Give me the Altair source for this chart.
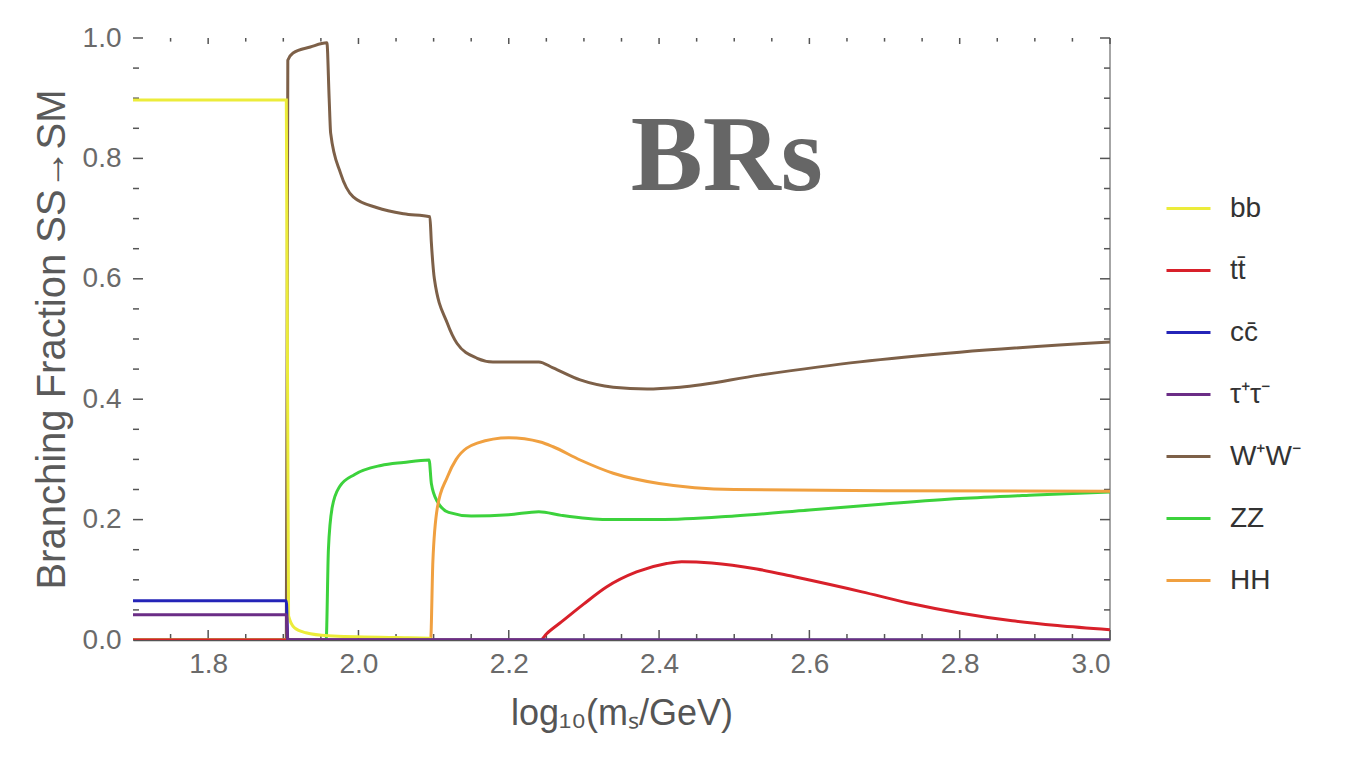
import altair as alt
import pandas as pd

# ---------------- data ----------------
series_names = ["bb", "tt\u0304", "cc\u0304", "\u03c4\u207a\u03c4\u207b", "W\u207aW\u207b", "ZZ", "HH"]
series_colors = ["#ecec3a", "#d8202a", "#2424b8", "#6b2d86", "#7d6048", "#3cd23c", "#f0a040"]

bb_x = [1.7, 1.904, 1.907, 1.915, 1.93, 1.96, 2.05, 2.095, 2.098, 3.0]
bb_y = [0.897, 0.897, 0.04, 0.02, 0.012, 0.007, 0.004, 0.003, 0.0, 0.0]

tt_x = [1.7, 2.242, 2.25, 2.27, 2.3, 2.33, 2.37, 2.41, 2.43, 2.47, 2.53, 2.58, 2.67, 2.73, 2.8, 2.87, 2.93, 3.0]
tt_y = [0.0, 0.0, 0.01, 0.03, 0.06, 0.088, 0.113, 0.127, 0.13, 0.128, 0.118, 0.105, 0.08, 0.062, 0.045, 0.032, 0.024, 0.017]

cc_x = [1.7, 1.904, 1.906, 3.0]
cc_y = [0.065, 0.065, 0.0, 0.0]

tau_x = [1.7, 1.904, 1.906, 3.0]
tau_y = [0.042, 0.042, 0.0, 0.0]

ww_x = [1.7, 1.904, 1.906, 1.913, 1.936, 1.958, 1.961, 1.963, 1.976, 1.993, 2.025, 2.06, 2.095,
        2.097, 2.101, 2.118, 2.131, 2.158, 2.179, 2.24, 2.259, 2.295, 2.339, 2.384, 2.428,
        2.534, 2.667, 2.8, 3.0]
ww_y = [0.0, 0.0, 0.963, 0.975, 0.985, 0.992, 0.90, 0.842, 0.776, 0.736, 0.718, 0.708, 0.703,
        0.66, 0.60, 0.527, 0.493, 0.468, 0.462, 0.462, 0.452, 0.432, 0.42, 0.417, 0.42,
        0.44, 0.462, 0.478, 0.495]

zz_x = [1.7, 1.957, 1.960, 1.965, 1.975, 1.995, 2.03, 2.06, 2.094, 2.097, 2.105, 2.12, 2.15,
        2.2, 2.24, 2.27, 2.33, 2.4, 2.5, 2.6, 2.7, 2.8, 2.9, 3.0]
zz_y = [0.0, 0.0, 0.15, 0.22, 0.255, 0.275, 0.29, 0.295, 0.299, 0.26, 0.23, 0.212, 0.206,
        0.208, 0.213, 0.207, 0.2, 0.2, 0.206, 0.216, 0.226, 0.235, 0.241, 0.246]

hh_x = [1.7, 2.096, 2.099, 2.105, 2.118, 2.13, 2.158, 2.2, 2.242, 2.259, 2.295, 2.339, 2.4, 2.5, 2.7, 3.0]
hh_y = [0.0, 0.0, 0.13, 0.22, 0.27, 0.3, 0.327, 0.336, 0.329, 0.321, 0.299, 0.277, 0.26, 0.25, 0.248, 0.247]

x_label_values = [1.8, 2.0, 2.2, 2.4, 2.6, 2.8, 3.0]
y_label_values = [0.0, 0.2, 0.4, 0.6, 0.8, 1.0]
x_major_ticks = [1.8, 2.0, 2.2, 2.4, 2.6, 2.8, 3.0]
x_minor_ticks = [1.75, 1.85, 1.9, 1.95, 2.05, 2.1, 2.15, 2.25, 2.3, 2.35, 2.45, 2.5, 2.55,
                 2.65, 2.7, 2.75, 2.85, 2.9, 2.95]
y_major_ticks = [0.0, 0.2, 0.4, 0.6, 0.8, 1.0]
y_minor_ticks = [0.05, 0.1, 0.15, 0.25, 0.3, 0.35, 0.45, 0.5, 0.55, 0.65, 0.7, 0.75, 0.85, 0.9, 0.95]

# ---------------- build ----------------
W, H = 977, 602
series_data = [
    (series_names[4], ww_x, ww_y),
    (series_names[5], zz_x, zz_y),
    (series_names[6], hh_x, hh_y),
    (series_names[0], bb_x, bb_y),
    (series_names[1], tt_x, tt_y),
    (series_names[2], cc_x, cc_y),
    (series_names[3], tau_x, tau_y),
]
rows = []
for name, xs_, ys_ in series_data:
    for i, (a, b) in enumerate(zip(xs_, ys_)):
        rows.append({"series": name, "x": a, "y": b, "i": i})
df = pd.DataFrame(rows)

xscale = alt.Scale(domain=[1.7, 3.0], nice=False, zero=False)
yscale = alt.Scale(domain=[0.0, 1.0], nice=False, zero=False)

FONT = "Liberation Sans"

lines = alt.Chart(df).mark_line(strokeWidth=3, clip=True, interpolate="monotone").encode(
    x=alt.X("x:Q", scale=xscale,
            axis=alt.Axis(values=x_label_values, format=".1f", title="log\u2081\u2080(m\u209b/GeV)",
                          grid=False, ticks=False, domain=True, domainColor="#555", domainWidth=1.5,
                          labelFont=FONT, labelFontSize=28, labelColor="#6a6a6a", labelPadding=10,
                          titleFont=FONT, titleFontSize=36, titleFontWeight="normal",
                          titleColor="#555", titlePadding=18)),
    y=alt.Y("y:Q", scale=yscale,
            axis=alt.Axis(values=y_label_values, format=".1f", title="Branching Fraction SS\u2192SM",
                          grid=False, ticks=False, domain=False,
                          labelFont=FONT, labelFontSize=28, labelColor="#6a6a6a", labelPadding=12,
                          titleFont=FONT, titleFontSize=40, titleFontWeight="normal",
                          titleColor="#5a5a5a", titlePadding=10)),
    color=alt.Color("series:N", sort=series_names,
                    scale=alt.Scale(domain=series_names, range=series_colors),
                    legend=alt.Legend(title=None, orient="none", legendX=1032, legendY=147,
                                      symbolType="stroke", symbolSize=1936, symbolStrokeWidth=3,
                                      labelFont=FONT, labelFontSize=28, labelColor="#333",
                                      rowPadding=24, labelOffset=18)),
    detail="series:N",
    order="i:Q",
)

tick_color = "#555"
xmaj = pd.DataFrame({"t": x_major_ticks})
xmin = pd.DataFrame({"t": x_minor_ticks})
ymaj = pd.DataFrame({"t": y_major_ticks})
ymin = pd.DataFrame({"t": y_minor_ticks})


def xticks(d, L):
    bottom = alt.Chart(d).mark_rule(color=tick_color, strokeWidth=1.5).encode(
        x=alt.X("t:Q", scale=xscale), y=alt.value(H), y2=alt.value(H - L))
    top = alt.Chart(d).mark_rule(color=tick_color, strokeWidth=1.5).encode(
        x=alt.X("t:Q", scale=xscale), y=alt.value(0), y2=alt.value(L * 0.6))
    return bottom + top


def yticks(d, L):
    left = alt.Chart(d).mark_rule(color=tick_color, strokeWidth=1.5).encode(
        y=alt.Y("t:Q", scale=yscale), x=alt.value(0), x2=alt.value(L))
    right = alt.Chart(d).mark_rule(color=tick_color, strokeWidth=1.5).encode(
        y=alt.Y("t:Q", scale=yscale), x=alt.value(W), x2=alt.value(W - L))
    return left + right


right_frame = alt.Chart(pd.DataFrame({"v": [3.0]})).mark_rule(color="#888", strokeWidth=1.5).encode(
    x=alt.X("v:Q", scale=xscale), y=alt.value(0), y2=alt.value(H))

brs = alt.Chart(pd.DataFrame({"x": [2.49], "y": [0.7475], "t": ["BRs"]})).mark_text(
    font="Liberation Serif", fontSize=108, fontWeight="bold", color="#666666",
    align="center", baseline="alphabetic").encode(
    x=alt.X("x:Q", scale=xscale), y=alt.Y("y:Q", scale=yscale), text="t:N")

chart = alt.layer(
    right_frame,
    xticks(xmaj, 10), xticks(xmin, 6), yticks(ymaj, 10), yticks(ymin, 6),
    lines, brs,
).properties(
    width=W, height=H,
    padding={"left": 125, "top": 30, "right": 225, "bottom": 110},
    autosize=alt.AutoSizeParams(type="none"),
    background="white",
).configure_view(stroke=None)

chart.save("out.html", embed_options={"renderer": "svg", "actions": False})
